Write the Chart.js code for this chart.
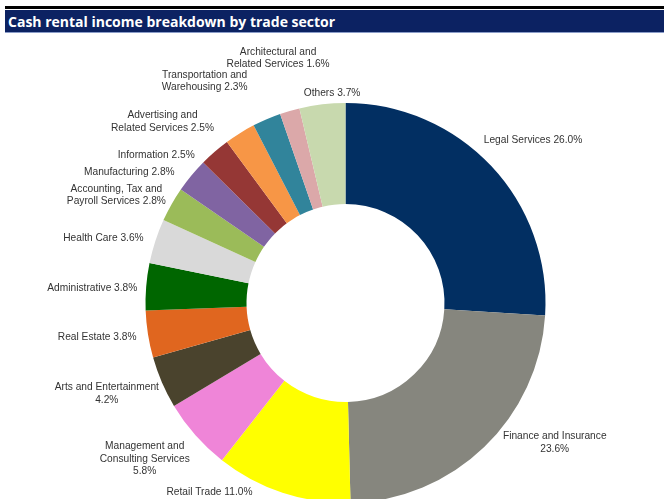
<!DOCTYPE html>
<html>
<head>
<meta charset="utf-8">
<script src="https://cdn.jsdelivr.net/npm/chart.js@4.4.1/dist/chart.umd.min.js"></script>
<style>
  html, body { margin: 0; padding: 0; background: #fff; overflow: hidden; }
  body { width: 664px; height: 499px; position: relative; }
  #rule { position: absolute; left: 5px; right: 0; top: 6px; height: 3px; background: #000; }
  #title {
    position: absolute; left: 5px; right: 0; top: 10px; height: 23px;
    background: #0c2262; border-bottom: 1px solid #8a9cc8;
    color: #fff; font: 700 14px "Open Sans", sans-serif; line-height: 23px;
    padding-left: 3px; box-sizing: border-box; z-index: 2; white-space: nowrap;
  }
  #wrap { position: absolute; left: 0; top: 0; width: 664px; height: 520px; }
</style>
</head>
<body>
<div id="rule"></div>
<div id="title">Cash rental income breakdown by trade sector</div>
<div id="wrap"><canvas id="chart"></canvas></div>
<script>
// "\n" marks where a label wraps; a trailing "\n" puts the share on its own line
const sectors = [
  'Legal Services',
  'Finance and Insurance\n',
  'Retail Trade',
  'Management and\nConsulting Services\n',
  'Arts and Entertainment\n',
  'Real Estate',
  'Administrative',
  'Health Care',
  'Accounting, Tax and\nPayroll Services',
  'Manufacturing',
  'Information',
  'Advertising and\nRelated Services',
  'Transportation and\nWarehousing',
  'Architectural and\nRelated Services',
  'Others'
];
const shares = [26.0, 23.6, 11.0, 5.8, 4.2, 3.8, 3.8, 3.6, 2.8, 2.8, 2.5, 2.5, 2.3, 1.6, 3.7];
const sliceColors = [
  '#022f62', '#86867e', '#ffff00', '#ef85d8', '#4a432d', '#e0661f', '#006600',
  '#d9d9d9', '#9bbb59', '#8064a2', '#953735', '#f79646', '#31849b', '#dba8a9', '#c8d9ae'
];

// hand nudges (px) so labels sit clear of each other, like the spreadsheet layout
const labelNudge = [
  [0, -16], [29, -19], [-57, -14], [-11, 6], [0, 3], [-4, 1], [-1, 3], [-6, 1],
  [-5, 1], [-21, 6], [-28, 14], [-46, 6], [-42, -19], [5, -33], [14, 3]
];

const labelFont = '10.2px "Liberation Sans", Arial, sans-serif';
const lineH = 12.5;

function labelLines(i) {
  const name = sectors[i];
  const txt = name + (name.endsWith('\n') ? '' : ' ') + shares[i].toFixed(1) + '%';
  return txt.split('\n');
}

const outsideLabels = {
  id: 'outsideLabels',
  afterDatasetsDraw(chart) {
    const ctx = chart.ctx;
    const arcs = chart.getDatasetMeta(0).data;
    ctx.save();
    ctx.font = labelFont;
    ctx.fillStyle = '#333333';
    ctx.textAlign = 'center';
    ctx.textBaseline = 'middle';
    arcs.forEach((arc, i) => {
      const mid = (arc.startAngle + arc.endAngle) / 2;
      const r = arc.outerRadius + 8;
      const lines = labelLines(i);
      const w = Math.max(...lines.map(l => ctx.measureText(l).width));
      const h = lines.length * lineH;
      const cx = arc.x + Math.cos(mid) * r + Math.cos(mid) * w / 2 + labelNudge[i][0];
      const cy = arc.y + Math.sin(mid) * r + Math.sin(mid) * h / 2 + labelNudge[i][1];
      lines.forEach((l, k) => {
        ctx.fillText(l, cx, cy - h / 2 + lineH * (k + 0.5));
      });
    });
    ctx.restore();
  }
};

new Chart(document.getElementById('chart'), {
  type: 'doughnut',
  data: {
    labels: sectors.map(s => s.replace(/\n/g, ' ').trim()),
    datasets: [{
      data: shares,
      backgroundColor: sliceColors,
      borderWidth: 0
    }]
  },
  options: {
    responsive: true,
    maintainAspectRatio: false,
    animation: false,
    cutout: '49.5%',
    layout: { padding: { top: 103, bottom: 17, left: 145.5, right: 118.5 } },
    plugins: {
      legend: { display: false },
      tooltip: { enabled: false }
    }
  },
  plugins: [outsideLabels]
});
</script>
</body>
</html>
